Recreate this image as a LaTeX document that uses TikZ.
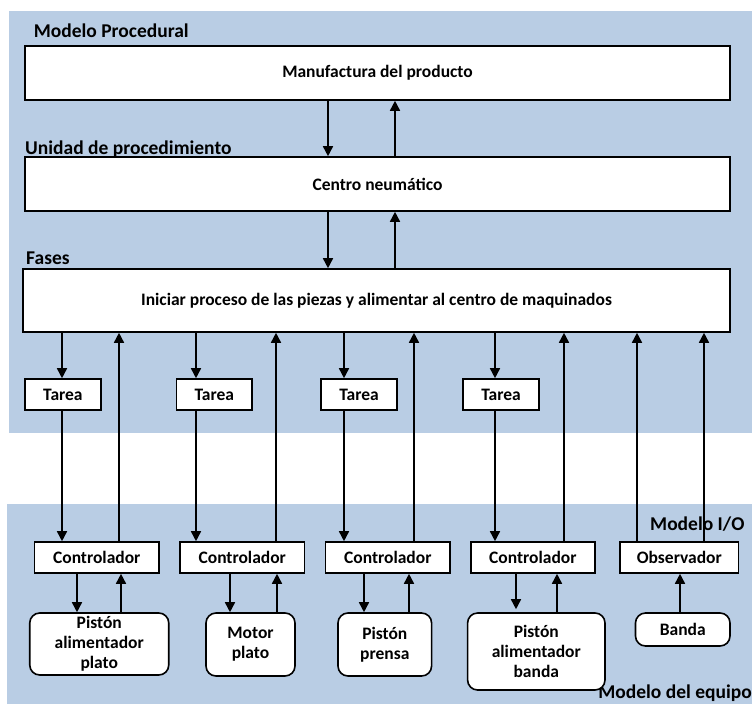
\documentclass[tikz,border=0pt]{standalone}
\usepackage{fontspec}
\setmainfont{Carlito}
\usetikzlibrary{arrows.meta}
\definecolor{bandblue}{RGB}{185,205,228}
\tikzset{
  txt/.style={font=\bfseries\fontsize{17.5}{20}\selectfont},
  box/.style={txt, draw=black, line width=1.6pt, fill=white, inner sep=0pt, align=center},
  devbox/.style={box, rounded corners=10pt},
  lbl/.style={font=\bfseries\fontsize{19.5}{22}\selectfont, inner sep=0pt},
  arr/.style={line width=1.6pt, -{Triangle[length=10pt,width=10pt]}},
}
\begin{document}
\begin{tikzpicture}[x=1pt,y=-1pt]
\useasboundingbox (0,0) rectangle (752,704);
% background bands
\fill[bandblue] (9,11) rectangle (752,433);
\fill[bandblue] (7,504) rectangle (752,704);

% level labels
\node[lbl, anchor=base west] (lproc) at (33.6,37.5) {Modelo Procedural};
\node[lbl, anchor=base west] (lunit) at (25,154) {Unidad de procedimiento};
\node[lbl, anchor=base west] (lfase) at (26,264) {Fases};
\node[lbl, anchor=base west] (lio) at (650,530) {Modelo I/O};
\node[lbl, anchor=base east] (leq) at (752,698.5) {Modelo del equipo};

% procedural boxes
\node[box, minimum width=705pt, minimum height=54pt] (m) at (377.5,73) {Manufactura del producto};
\node[box, minimum width=705pt, minimum height=54pt] (u) at (377.5,184) {Centro neum\'atico};
\node[box, minimum width=707pt, minimum height=63pt] (f) at (376.5,300.5) {Iniciar proceso de las piezas y alimentar al centro de maquinados};

% tasks
\node[box, minimum width=75.7pt, minimum height=31pt] (t1) at (62.9,394.5) {Tarea};
\node[box, minimum width=75.5pt, minimum height=31pt] (t2) at (214.3,394.5) {Tarea};
\node[box, minimum width=76pt, minimum height=31pt] (t3) at (359,394.5) {Tarea};
\node[box, minimum width=76pt, minimum height=31pt] (t4) at (501,394.5) {Tarea};

% controllers and observer
\node[box, minimum width=124.5pt, minimum height=31pt] (c1) at (96.75,557.5) {Controlador};
\node[box, minimum width=124.5pt, minimum height=31pt] (c2) at (242.25,557.5) {Controlador};
\node[box, minimum width=124.4pt, minimum height=31pt] (c3) at (387.8,557.5) {Controlador};
\node[box, minimum width=123.7pt, minimum height=31pt] (c4) at (532.85,557.5) {Controlador};
\node[box, minimum width=118.6pt, minimum height=31pt] (ob) at (679.3,557.5) {Observador};

% equipment
\node[devbox, minimum width=139pt, minimum height=62pt] (d1) at (99.25,644) {Pist\'on\\alimentador\\plato};
\node[devbox, minimum width=89pt, minimum height=63pt] (d2) at (250.5,644.5) {Motor\\plato};
\node[devbox, minimum width=93.6pt, minimum height=63pt] (d3) at (384.8,644.5) {Pist\'on\\prensa};
\node[devbox, minimum width=137.4pt, minimum height=77pt] (d4) at (536.3,651.5) {Pist\'on\\alimentador\\banda};
\node[devbox, minimum width=94.5pt, minimum height=33pt] (d5) at (682.75,629.5) {Banda};

% connector columns
\coordinate (xa) at (328,0);
\coordinate (xb) at (395,0);
\coordinate (q1) at (62,0);
\coordinate (q2) at (196,0);
\coordinate (q3) at (344,0);
\coordinate (q4) at (495,0);
\coordinate (r1) at (119,0);
\coordinate (r2) at (276,0);
\coordinate (r3) at (414,0);
\coordinate (r4) at (564,0);
\coordinate (r5) at (637,0);
\coordinate (r6) at (704,0);
\coordinate (s1) at (77,0);
\coordinate (s2) at (230,0);
\coordinate (s3) at (364,0);
\coordinate (s4) at (516,0);
\coordinate (v1) at (121,0);
\coordinate (v2) at (277,0);
\coordinate (v3) at (409,0);
\coordinate (v4) at (557,0);
\coordinate (v5) at (680,0);

% procedure to unit to phase
\draw[arr] (m.south -| xa) -- (u.north -| xa);
\draw[arr] (u.north -| xb) -- (m.south -| xb);
\draw[arr] (u.south -| xa) -- (f.north -| xa);
\draw[arr] (f.north -| xb) -- (u.south -| xb);

% phase to tasks to controllers
\draw[arr] (f.south -| q1) -- (t1.north -| q1);
\draw[arr] (f.south -| q2) -- (t2.north -| q2);
\draw[arr] (f.south -| q3) -- (t3.north -| q3);
\draw[arr] (f.south -| q4) -- (t4.north -| q4);
\draw[arr] (t1.south -| q1) -- (c1.north -| q1);
\draw[arr] (t2.south -| q2) -- (c2.north -| q2);
\draw[arr] (t3.south -| q3) -- (c3.north -| q3);
\draw[arr] (t4.south -| q4) -- (c4.north -| q4);

% feedback to phase
\draw[arr] (c1.north -| r1) -- (f.south -| r1);
\draw[arr] (c2.north -| r2) -- (f.south -| r2);
\draw[arr] (c3.north -| r3) -- (f.south -| r3);
\draw[arr] (c4.north -| r4) -- (f.south -| r4);
\draw[arr] (ob.north -| r5) -- (f.south -| r5);
\draw[arr] (ob.north -| r6) -- (f.south -| r6);

% controllers to equipment
\draw[arr] (c1.south -| s1) -- (d1.north -| s1);
\draw[arr] (c2.south -| s2) -- (d2.north -| s2);
\draw[arr] (c3.south -| s3) -- (d3.north -| s3);
\draw[arr, shorten >=3pt] (c4.south -| s4) -- (d4.north -| s4);
\draw[arr] (d1.north -| v1) -- (c1.south -| v1);
\draw[arr] (d2.north -| v2) -- (c2.south -| v2);
\draw[arr] (d3.north -| v3) -- (c3.south -| v3);
\draw[arr] (d4.north -| v4) -- (c4.south -| v4);
\draw[arr] (d5.north -| v5) -- (ob.south -| v5);
\end{tikzpicture}
\end{document}
